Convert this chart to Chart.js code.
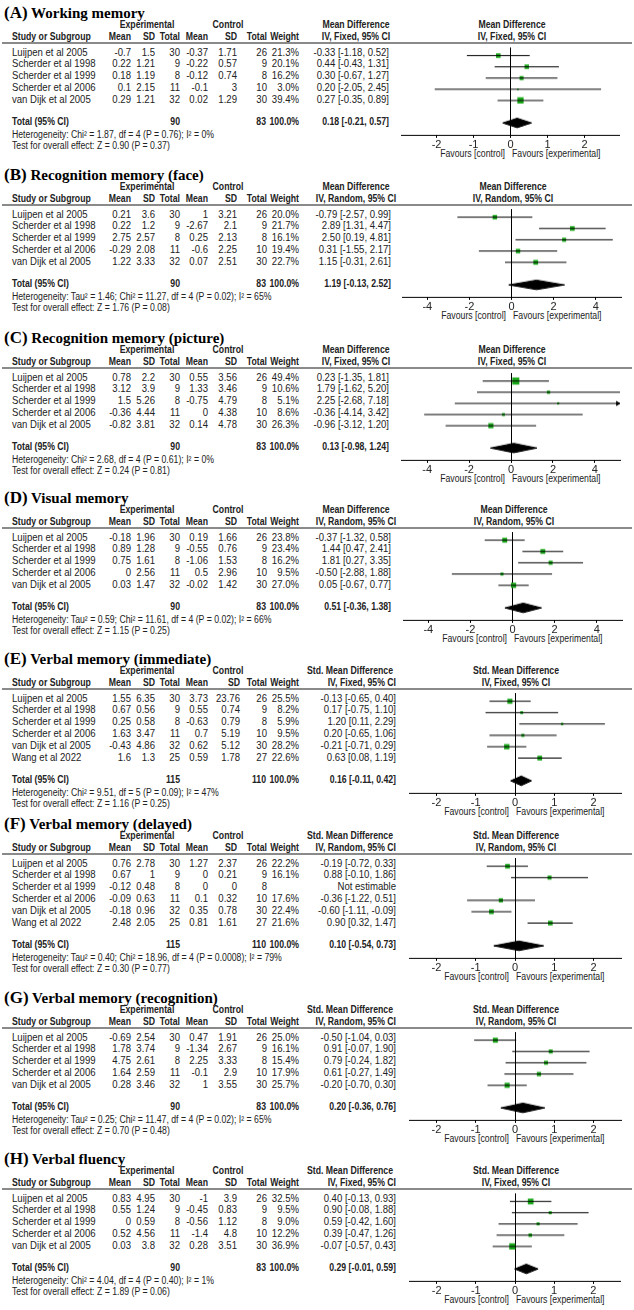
<!DOCTYPE html>
<html>
<head>
<meta charset="utf-8">
<script src="https://cdn.jsdelivr.net/npm/chart.js@4.4.1/dist/chart.umd.min.js"></script>
<style>
html, body { margin: 0; padding: 0; background: #fff; }
#page { position: relative; width: 634px; height: 1310px; overflow: hidden; background: #fff; }
.t { position: absolute; white-space: nowrap; font-family: 'Liberation Sans', Arial, sans-serif; font-size: 11px; line-height: 1; color: #222; }
.b { font-weight: bold; font-size: 10px; }
.f { font-size: 10px; }
.ttl { position: absolute; white-space: nowrap; font-family: 'Liberation Serif', 'Times New Roman', serif; font-weight: bold; font-size: 15px; line-height: 1; color: #000; transform: translateY(-50%); }
.ttl span { font-size: 17px; }
.rule { position: absolute; height: 2px; background: #8a8a8a; z-index: 2; }
canvas { position: absolute; }
</style>
</head>
<body>
<div id="page"></div>
<script>
// studies and group sizes
const studies5 = ["Luijpen et al 2005", "Scherder et al 1998", "Scherder et al 1999", "Scherder et al 2006", "van Dijk et al 2005"];
const studies6 = ["Luijpen et al 2005", "Scherder et al 1998", "Scherder et al 1999", "Scherder et al 2006", "van Dijk et al 2005", "Wang et al 2022"];
const expN5 = [30, 9, 8, 11, 32];
const ctlN5 = [26, 9, 8, 10, 30];
const expN6 = [30, 9, 8, 11, 32, 25];
const ctlN6 = [26, 9, 8, 10, 30, 27];
const groupN5 = [90, 83];
const groupN6 = [115, 110];
const ticksSmall = [-2, -1, 0, 1, 2];
const ticksWide = [-4, -2, 0, 2, 4];

// (A) working memory
const aExpMean = [-0.7, 0.22, 0.18, 0.1, 0.29];
const aExpSD = [1.5, 1.21, 1.19, 2.15, 1.21];
const aCtlMean = [-0.37, -0.22, -0.12, -0.1, 0.02];
const aCtlSD = [1.71, 0.57, 0.74, 3, 1.29];
const aWeight = [21.3, 20.1, 16.2, 3.0, 39.4];
const aEst = [-0.33, 0.44, 0.30, 0.20, 0.27];
const aLow = [-1.18, -0.43, -0.67, -2.05, -0.35];
const aHigh = [0.52, 1.31, 1.27, 2.45, 0.89];
const aTotal = [0.18, -0.21, 0.57];

// (B) recognition memory (face)
const bExpMean = [0.21, 0.22, 2.75, -0.29, 1.22];
const bExpSD = [3.6, 1.2, 2.57, 2.08, 3.33];
const bCtlMean = [1, -2.67, 0.25, -0.6, 0.07];
const bCtlSD = [3.21, 2.1, 2.13, 2.25, 2.51];
const bWeight = [20.0, 21.7, 16.1, 19.4, 22.7];
const bEst = [-0.79, 2.89, 2.50, 0.31, 1.15];
const bLow = [-2.57, 1.31, 0.19, -1.55, -0.31];
const bHigh = [0.99, 4.47, 4.81, 2.17, 2.61];
const bTotal = [1.19, -0.13, 2.52];

// (C) recognition memory (picture)
const cExpMean = [0.78, 3.12, 1.5, -0.36, -0.82];
const cExpSD = [2.2, 3.9, 5.26, 4.44, 3.81];
const cCtlMean = [0.55, 1.33, -0.75, 0, 0.14];
const cCtlSD = [3.56, 3.46, 4.79, 4.38, 4.78];
const cWeight = [49.4, 10.6, 5.1, 8.6, 26.3];
const cEst = [0.23, 1.79, 2.25, -0.36, -0.96];
const cLow = [-1.35, -1.62, -2.68, -4.14, -3.12];
const cHigh = [1.81, 5.20, 7.18, 3.42, 1.20];
const cTotal = [0.13, -0.98, 1.24];

// (D) visual memory
const dExpMean = [-0.18, 0.89, 0.75, 0, 0.03];
const dExpSD = [1.96, 1.28, 1.61, 2.56, 1.47];
const dCtlMean = [0.19, -0.55, -1.06, 0.5, -0.02];
const dCtlSD = [1.66, 0.76, 1.53, 2.96, 1.42];
const dWeight = [23.8, 23.4, 16.2, 9.5, 27.0];
const dEst = [-0.37, 1.44, 1.81, -0.50, 0.05];
const dLow = [-1.32, 0.47, 0.27, -2.88, -0.67];
const dHigh = [0.58, 2.41, 3.35, 1.88, 0.77];
const dTotal = [0.51, -0.36, 1.38];

// (E) verbal memory (immediate)
const eExpMean = [1.55, 0.67, 0.25, 1.63, -0.43, 1.6];
const eExpSD = [6.35, 0.56, 0.58, 3.47, 4.86, 1.3];
const eCtlMean = [3.73, 0.55, -0.63, 0.7, 0.62, 0.59];
const eCtlSD = [23.76, 0.74, 0.79, 5.19, 5.12, 1.78];
const eWeight = [25.5, 8.2, 5.9, 9.5, 28.2, 22.6];
const eEst = [-0.13, 0.17, 1.20, 0.20, -0.21, 0.63];
const eLow = [-0.65, -0.75, 0.11, -0.65, -0.71, 0.08];
const eHigh = [0.40, 1.10, 2.29, 1.06, 0.29, 1.19];
const eTotal = [0.16, -0.11, 0.42];

// (F) verbal memory (delayed)
const fExpMean = [0.76, 0.67, -0.12, -0.09, -0.18, 2.48];
const fExpSD = [2.78, 1, 0.48, 0.63, 0.96, 2.05];
const fCtlMean = [1.27, 0, 0, 0.1, 0.35, 0.81];
const fCtlSD = [2.37, 0.21, 0, 0.32, 0.78, 1.61];
const fWeight = [22.2, 16.1, null, 17.6, 22.4, 21.6];
const fEst = [-0.19, 0.88, null, -0.36, -0.60, 0.90];
const fLow = [-0.72, -0.10, null, -1.22, -1.11, 0.32];
const fHigh = [0.33, 1.86, null, 0.51, -0.09, 1.47];
const fTotal = [0.10, -0.54, 0.73];

// (G) verbal memory (recognition)
const gExpMean = [-0.69, 1.78, 4.75, 1.64, 0.28];
const gExpSD = [2.54, 3.74, 2.61, 2.59, 3.46];
const gCtlMean = [0.47, -1.34, 2.25, -0.1, 1];
const gCtlSD = [1.91, 2.67, 3.33, 2.9, 3.55];
const gWeight = [25.0, 16.1, 15.4, 17.9, 25.7];
const gEst = [-0.50, 0.91, 0.79, 0.61, -0.20];
const gLow = [-1.04, -0.07, -0.24, -0.27, -0.70];
const gHigh = [0.03, 1.90, 1.82, 1.49, 0.30];
const gTotal = [0.20, -0.36, 0.76];

// (H) verbal fluency
const hExpMean = [0.83, 0.55, 0, 0.52, 0.03];
const hExpSD = [4.95, 1.24, 0.59, 4.56, 3.8];
const hCtlMean = [-1, -0.45, -0.56, -1.4, 0.28];
const hCtlSD = [3.9, 0.83, 1.12, 4.8, 3.51];
const hWeight = [32.5, 9.5, 9.0, 12.2, 36.9];
const hEst = [0.40, 0.90, 0.59, 0.39, -0.07];
const hLow = [-0.13, -0.08, -0.42, -0.47, -0.57];
const hHigh = [0.93, 1.88, 1.60, 1.26, 0.43];
const hTotal = [0.29, -0.01, 0.59];

const panels = [
  { key: 'A', title: 'Working memory', h1: 25, measure: 'Mean Difference', method: 'IV, Fixed, 95% CI',
    names: studies5, expMean: aExpMean, expSD: aExpSD, expN: expN5, ctlMean: aCtlMean, ctlSD: aCtlSD, ctlN: ctlN5,
    weight: aWeight, est: aEst, low: aLow, high: aHigh, total: aTotal, groupN: groupN5,
    het: 'Heterogeneity: Chi² = 1.87, df = 4 (P = 0.76); I² = 0%', test: 'Test for overall effect: Z = 0.90 (P = 0.37)',
    ticks: ticksSmall, xMin: -2.95, xMax: 2.95, L: 397, R: 624, std: false },
  { key: 'B', title: 'Recognition memory (face)', h1: 187, measure: 'Mean Difference', method: 'IV, Random, 95% CI',
    names: studies5, expMean: bExpMean, expSD: bExpSD, expN: expN5, ctlMean: bCtlMean, ctlSD: bCtlSD, ctlN: ctlN5,
    weight: bWeight, est: bEst, low: bLow, high: bHigh, total: bTotal, groupN: groupN5,
    het: 'Heterogeneity: Tau² = 1.46; Chi² = 11.27, df = 4 (P = 0.02); I² = 65%', test: 'Test for overall effect: Z = 1.76 (P = 0.08)',
    ticks: ticksWide, xMin: -5.2, xMax: 5.2, L: 398, R: 625, std: false },
  { key: 'C', title: 'Recognition memory (picture)', h1: 350, measure: 'Mean Difference', method: 'IV, Fixed, 95% CI',
    names: studies5, expMean: cExpMean, expSD: cExpSD, expN: expN5, ctlMean: cCtlMean, ctlSD: cCtlSD, ctlN: ctlN5,
    weight: cWeight, est: cEst, low: cLow, high: cHigh, total: cTotal, groupN: groupN5,
    het: 'Heterogeneity: Chi² = 2.68, df = 4 (P = 0.61); I² = 0%', test: 'Test for overall effect: Z = 0.24 (P = 0.81)',
    ticks: ticksWide, xMin: -5.2, xMax: 5.2, L: 397, R: 625, std: false },
  { key: 'D', title: 'Visual memory', h1: 510, measure: 'Mean Difference', method: 'IV, Random, 95% CI',
    names: studies5, expMean: dExpMean, expSD: dExpSD, expN: expN5, ctlMean: dCtlMean, ctlSD: dCtlSD, ctlN: ctlN5,
    weight: dWeight, est: dEst, low: dLow, high: dHigh, total: dTotal, groupN: groupN5,
    het: 'Heterogeneity: Tau² = 0.59; Chi² = 11.61, df = 4 (P = 0.02); I² = 66%', test: 'Test for overall effect: Z = 1.15 (P = 0.25)',
    ticks: ticksWide, xMin: -5.2, xMax: 5.2, L: 399, R: 626, std: false },
  { key: 'E', title: 'Verbal memory (immediate)', h1: 671, measure: 'Std. Mean Difference', method: 'IV, Fixed, 95% CI',
    names: studies6, expMean: eExpMean, expSD: eExpSD, expN: expN6, ctlMean: eCtlMean, ctlSD: eCtlSD, ctlN: ctlN6,
    weight: eWeight, est: eEst, low: eLow, high: eHigh, total: eTotal, groupN: groupN6,
    het: 'Heterogeneity: Chi² = 9.51, df = 5 (P = 0.09); I² = 47%', test: 'Test for overall effect: Z = 1.16 (P = 0.25)',
    ticks: ticksSmall, xMin: -2.7, xMax: 2.7, L: 405, R: 625, std: true, wideSD: true },
  { key: 'F', title: 'Verbal memory (delayed)', h1: 836, measure: 'Std. Mean Difference', method: 'IV, Random, 95% CI',
    names: studies6, expMean: fExpMean, expSD: fExpSD, expN: expN6, ctlMean: fCtlMean, ctlSD: fCtlSD, ctlN: ctlN6,
    weight: fWeight, est: fEst, low: fLow, high: fHigh, total: fTotal, groupN: groupN6,
    het: 'Heterogeneity: Tau² = 0.40; Chi² = 18.96, df = 4 (P = 0.0008); I² = 79%', test: 'Test for overall effect: Z = 0.30 (P = 0.77)',
    ticks: ticksSmall, xMin: -2.7, xMax: 2.7, L: 405, R: 625, std: true },
  { key: 'G', title: 'Verbal memory (recognition)', h1: 1010, measure: 'Std. Mean Difference', method: 'IV, Random, 95% CI',
    names: studies5, expMean: gExpMean, expSD: gExpSD, expN: expN5, ctlMean: gCtlMean, ctlSD: gCtlSD, ctlN: ctlN5,
    weight: gWeight, est: gEst, low: gLow, high: gHigh, total: gTotal, groupN: groupN5,
    het: 'Heterogeneity: Tau² = 0.25; Chi² = 11.47, df = 4 (P = 0.02); I² = 65%', test: 'Test for overall effect: Z = 0.70 (P = 0.48)',
    ticks: ticksSmall, xMin: -2.7, xMax: 2.7, L: 405, R: 625, std: true },
  { key: 'H', title: 'Verbal fluency', h1: 1171, measure: 'Std. Mean Difference', method: 'IV, Fixed, 95% CI',
    names: studies5, expMean: hExpMean, expSD: hExpSD, expN: expN5, ctlMean: hCtlMean, ctlSD: hCtlSD, ctlN: ctlN5,
    weight: hWeight, est: hEst, low: hLow, high: hHigh, total: hTotal, groupN: groupN5,
    het: 'Heterogeneity: Chi² = 4.04, df = 4 (P = 0.40); I² = 1%', test: 'Test for overall effect: Z = 1.89 (P = 0.06)',
    ticks: ticksSmall, xMin: -2.7, xMax: 2.7, L: 405, R: 625, std: true }
];

const page = document.getElementById('page');
const ROW0 = 26.5, ROWH = 11.8, AXIS_H = 18;
const GREEN = '#1aa81a';
const SQX = 0.87;

function put(x, y, s, align, cls) {
  const d = document.createElement('div');
  d.className = 't' + (cls ? ' ' + cls : '');
  d.textContent = s;
  d.style.left = x + 'px';
  d.style.top = y + 'px';
  const tx = align === 'r' ? '-100%' : align === 'c' ? '-50%' : '0';
  d.style.transformOrigin = align === 'r' ? 'right center' : align === 'c' ? 'center center' : 'left center';
  d.style.transform = 'translate(' + tx + ', -50%) scaleX(' + SQX + ')';
  page.appendChild(d);
}

function ci(e, lo, hi) {
  return e.toFixed(2) + ' [' + lo.toFixed(2) + ', ' + hi.toFixed(2) + ']';
}

function renderPanel(p) {
  const n = p.names.length;
  const rowY = i => p.h1 + ROW0 + ROWH * i;
  const T = n + 1;
  const totalY = rowY(T);
  const lineY = p.h1 + 18;
  const axisY = totalY + 12.5;
  const zeroX = p.L + (0 - p.xMin) / (p.xMax - p.xMin) * (p.R - p.L);

  // column anchors
  const c = {
    eMean: 131, eSD: 155, eTot: 180, cMean: 208,
    cSD: p.wideSD ? 240 : 237, cTot: 267,
    w: 299, ci: p.std ? 396 : (p.method.indexOf('Random') >= 0 ? 391 : 389)
  };

  const t = document.createElement('div');
  t.className = 'ttl';
  t.style.left = '4px';
  t.style.top = (p.h1 - 13) + 'px';
  t.innerHTML = '<span>(' + p.key + ')</span> ' + p.title;
  page.appendChild(t);

  // header
  put(147, p.h1, 'Experimental', 'c', 'b');
  put(228, p.h1, 'Control', 'c', 'b');
  const h2 = p.h1 + 12;
  put(12, h2, 'Study or Subgroup', 'l', 'b');
  put(c.eMean, h2, 'Mean', 'r', 'b');
  put(c.eSD, h2, 'SD', 'r', 'b');
  put(c.eTot, h2, 'Total', 'r', 'b');
  put(c.cMean, h2, 'Mean', 'r', 'b');
  put(c.cSD, h2, 'SD', 'r', 'b');
  put(c.cTot, h2, 'Total', 'r', 'b');
  put(c.w, h2, 'Weight', 'r', 'b');
  if (p.std) {
    put(c.ci - 3, p.h1, p.measure, 'r', 'b');
    put(c.ci, h2, p.method, 'r', 'b');
  } else {
    put(356, p.h1, p.measure, 'c', 'b');
    put(356, h2, p.method, 'c', 'b');
  }
  put(zeroX + 1, p.h1, p.measure, 'c', 'b');
  put(zeroX + 1, h2, p.method, 'c', 'b');

  const rule = document.createElement('div');
  rule.className = 'rule';
  rule.style.left = '2px';
  rule.style.width = '630px';
  rule.style.top = (lineY - 1) + 'px';
  page.appendChild(rule);

  // study rows
  p.names.forEach((name, i) => {
    const y = rowY(i);
    put(12, y, name, 'l');
    put(c.eMean, y, String(p.expMean[i]), 'r');
    put(c.eSD, y, String(p.expSD[i]), 'r');
    put(c.eTot, y, String(p.expN[i]), 'r');
    put(c.cMean, y, String(p.ctlMean[i]), 'r');
    put(c.cSD, y, String(p.ctlSD[i]), 'r');
    put(c.cTot, y, String(p.ctlN[i]), 'r');
    if (p.est[i] == null) {
      put(c.ci, y, 'Not estimable', 'r');
    } else {
      put(c.w, y, p.weight[i].toFixed(1) + '%', 'r');
      put(c.ci, y, ci(p.est[i], p.low[i], p.high[i]), 'r');
    }
  });

  put(12, totalY, 'Total (95% CI)', 'l', 'b');
  put(c.eTot, totalY, String(p.groupN[0]), 'r', 'b');
  put(c.cTot - 1, totalY, String(p.groupN[1]), 'r', 'b');
  put(c.w, totalY, '100.0%', 'r', 'b');
  put(c.ci, totalY, ci(p.total[0], p.total[1], p.total[2]), 'r', 'b');
  put(12, totalY + 13, p.het, 'l', 'f');
  put(12, totalY + 24, p.test, 'l', 'f');
  put(zeroX - 6, totalY + 32, 'Favours [control]', 'r', 'f');
  put(zeroX + 1, totalY + 32, 'Favours [experimental]', 'l', 'f');

  // forest plot
  const W = p.R - p.L;
  const chartH = axisY - lineY;
  const cv = document.createElement('canvas');
  cv.width = W;
  cv.height = chartH + AXIS_H;
  cv.style.left = p.L + 'px';
  cv.style.top = lineY + 'px';
  cv.style.width = W + 'px';
  cv.style.height = (chartH + AXIS_H) + 'px';
  page.appendChild(cv);

  const yMin = (lineY - rowY(0)) / ROWH;
  const yMax = (axisY - rowY(0)) / ROWH;
  const ppu = W / (p.xMax - p.xMin);
  const shown = p.est.map((e, i) => i).filter(i => p.est[i] != null);

  const datasets = [];
  shown.forEach(i => {
    datasets.push({
      showLine: true, data: [{ x: p.low[i], y: i }, { x: p.high[i], y: i }],
      borderColor: '#000', borderWidth: 1, pointRadius: 0
    });
  });
  datasets.push({
    data: shown.map(i => ({ x: p.est[i], y: i })),
    pointStyle: 'rect', backgroundColor: GREEN, borderColor: GREEN, borderWidth: 0,
    pointRadius: shown.map(i => Math.max(1.6, Math.sqrt(p.weight[i])) / Math.SQRT2)
  });
  const over = shown.filter(i => p.high[i] > p.xMax);
  if (over.length) {
    datasets.push({
      data: over.map(i => ({ x: p.xMax - 2.5 / ppu, y: i })),
      pointStyle: 'triangle', rotation: 90, pointRadius: 3,
      backgroundColor: '#000', borderColor: '#000', borderWidth: 0
    });
  }
  const dh = 0.42;
  const tot = p.total;
  datasets.push({
    showLine: true, fill: 'shape', tension: 0,
    data: [{ x: tot[1], y: T }, { x: tot[0], y: T - dh }, { x: tot[2], y: T }, { x: tot[0], y: T + dh }, { x: tot[1], y: T }],
    borderColor: '#000', backgroundColor: '#000', borderWidth: 1, pointRadius: 0
  });

  new Chart(cv.getContext('2d'), {
    type: 'scatter',
    data: { datasets: datasets },
    options: {
      responsive: false,
      animation: false,
      events: [],
      layout: { padding: 0 },
      plugins: { legend: { display: false }, tooltip: { enabled: false } },
      scales: {
        x: {
          type: 'linear', position: 'bottom', min: p.xMin, max: p.xMax,
          afterBuildTicks: s => { s.ticks = p.ticks.map(v => ({ value: v })); },
          afterFit: s => { s.height = AXIS_H; },
          grid: {
            drawOnChartArea: true, drawTicks: true, tickLength: 3, tickColor: '#000', lineWidth: 1,
            color: ctx => (ctx.tick && ctx.tick.value === 0) ? '#000' : 'rgba(0,0,0,0)'
          },
          border: { display: true, color: '#000', width: 1 },
          ticks: {
            autoSkip: false, maxRotation: 0, padding: 0, color: '#222',
            font: { family: 'Liberation Sans', size: 11 },
            callback: v => String(v)
          }
        },
        y: { type: 'linear', display: false, reverse: true, min: yMin, max: yMax }
      }
    }
  });
}

panels.forEach(renderPanel);
</script>
</body>
</html>
